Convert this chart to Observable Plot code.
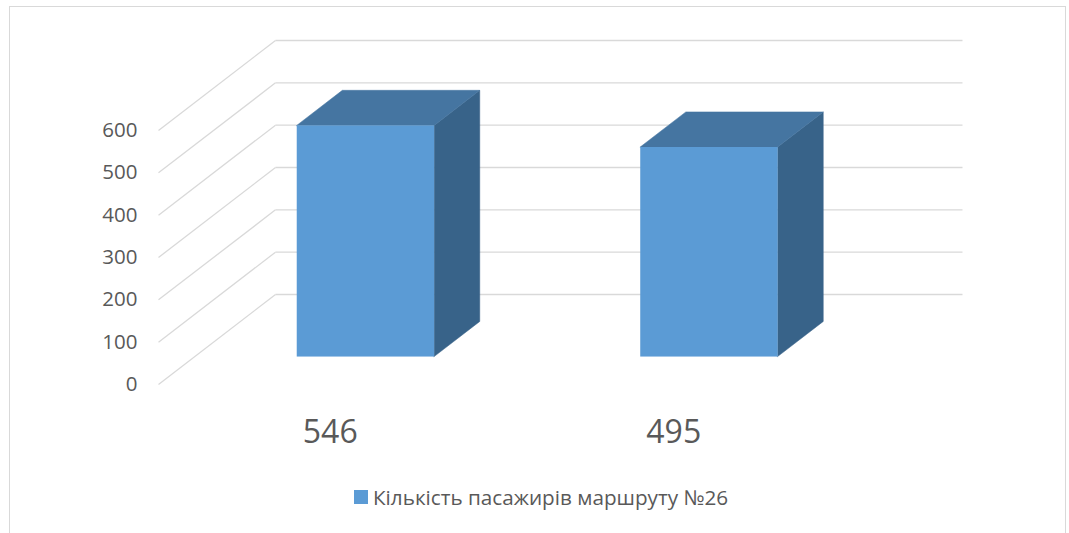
<!DOCTYPE html>
<html>
<head>
<meta charset="utf-8">
<script src="https://cdn.jsdelivr.net/npm/d3@7"></script>
<script src="https://cdn.jsdelivr.net/npm/@observablehq/plot@0.6"></script>
<style>
  html, body { margin: 0; padding: 0; background: #fff; }
  #wrap { position: relative; width: 1069px; height: 533px; overflow: hidden; font-family: "Open Sans", sans-serif; }
  #frame { position: absolute; left: 9px; top: 6px; width: 1057px; height: 600px; border: 1px solid #d9d9d9; box-sizing: border-box; }
  #chart { position: absolute; left: 0; top: 0; }
  #legend { position: absolute; left: 354px; top: 483px; display: flex; align-items: center; color: #595959; font-size: 20.7px; white-space: nowrap; }
  #legend .sw { width: 14px; height: 14px; background: #5B9BD5; margin-right: 5px; }
</style>
</head>
<body>
<div id="wrap">
  <div id="frame"></div>
  <div id="chart"></div>
  <div id="legend"><div class="sw"></div><span id="legtext"></span></div>
</div>
<script>
// ---- data ----
const categories = ["546", "495"];
const values = [546, 495];
const yTicks = [0, 100, 200, 300, 400, 500, 600];
const seriesName = "Кількість пасажирів маршруту №26";

// ---- 3D projection (in data units) ----
const W = 1069, H = 470;
const depth = {x: 0.3406, y: 212.6};      // full floor depth vector
const fFront = 0.305, fBack = 0.695;       // bar front/back depth fractions
const halfW = 0.2;                         // half bar width (band = 1)

const bars = categories.map((c, i) => ({cat: c, i, c: i + 0.5, v: values[i]}));
const front = bars.map(b => ({
  ...b,
  x1: b.c - halfW + fFront * depth.x, x2: b.c + halfW + fFront * depth.x,
  y1: fFront * depth.y, y2: b.v + fFront * depth.y
}));
const faces = bars.flatMap(b => [fFront, fBack].map(d => ({
  ...b, d,
  sx: b.c + halfW + d * depth.x, sy1: d * depth.y, sy2: b.v + d * depth.y,
  tx1: b.c - halfW + d * depth.x, tx2: b.c + halfW + d * depth.x, ty: b.v + d * depth.y
})));

const grid = "#d9d9d9", txt = "#595959";

const plot = Plot.plot({
  width: W, height: H,
  marginLeft: 158, marginRight: 224, marginTop: 130, marginBottom: H - 384,
  x: {type: "linear", domain: [0, 2], axis: null},
  y: {type: "linear", domain: [0, 600], axis: null},
  style: {fontFamily: "'Open Sans', sans-serif", background: "transparent"},
  marks: [
    // back wall gridlines
    Plot.link(yTicks, {x1: depth.x, x2: 2 + depth.x, y1: t => t + depth.y, y2: t => t + depth.y, stroke: grid, strokeWidth: 1.3}),
    // side wall diagonals
    Plot.link(yTicks, {x1: 0, y1: t => t, x2: depth.x, y2: t => t + depth.y, stroke: grid, strokeWidth: 1.3}),
    // bar side faces
    Plot.areaY(faces, {x: "sx", y1: "sy1", y2: "sy2", z: "cat", fill: "#386389", stroke: "#386389", strokeWidth: 0.5}),
    // bar top faces
    Plot.areaX(faces, {y: "ty", x1: "tx1", x2: "tx2", z: "cat", fill: "#4575A1", stroke: "#4575A1", strokeWidth: 0.5}),
    // bar front faces
    Plot.rect(front, {x1: "x1", x2: "x2", y1: "y1", y2: "y2", fill: "#5B9BD5"}),
    // y tick labels
    Plot.text(yTicks, {x: 0, y: t => t, text: t => String(t), dx: -21, textAnchor: "end", fontSize: 20.5, fill: txt}),
    // category labels
    Plot.text(bars, {x: "c", y: 0, text: "cat", dy: 48, fontSize: 32, fill: txt})
  ]
});
document.getElementById("chart").appendChild(plot);
document.getElementById("legtext").textContent = seriesName;
</script>
</body>
</html>
